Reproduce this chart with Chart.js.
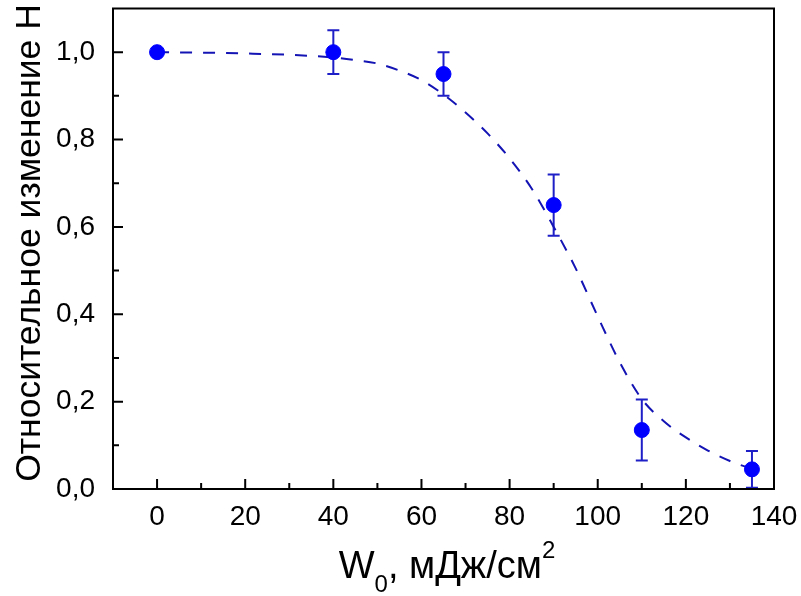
<!DOCTYPE html>
<html>
<head>
<meta charset="utf-8">
<script src="https://cdn.jsdelivr.net/npm/chart.js@4"></script>
<style>
  body { margin: 0; background: #fff; }
</style>
</head>
<body>
<canvas id="chart" width="801" height="596"></canvas>
<script>
// measured points with error bars
const energy = [0, 40, 65, 90, 110, 135];
const relChange = [1.0, 1.0, 0.95, 0.65, 0.135, 0.045];
const relError = [0, 0.05, 0.05, 0.07, 0.07, 0.042];

// dashed fit curve
const fitX = [0, 10, 20, 30, 40, 45, 50, 55, 60, 65, 70, 75, 80, 85, 90, 95, 100, 105, 110, 115, 120, 125, 130, 135];
const fitY = [1.0, 0.999, 0.997, 0.994, 0.988, 0.982, 0.974, 0.958, 0.936, 0.903, 0.862, 0.814, 0.757, 0.688, 0.6, 0.505, 0.395, 0.29, 0.206, 0.155, 0.118, 0.088, 0.064, 0.046];

// axis ticks
const xTicks = [0, 20, 40, 60, 80, 100, 120, 140];
const xMinor = [-10, 10, 30, 50, 70, 90, 110, 130];
const yTicks = [0, 0.2, 0.4, 0.6, 0.8, 1.0];
const yMinor = [0.1, 0.3, 0.5, 0.7, 0.9];

const FONT = 'Liberation Sans, Arial, sans-serif';

// error bars, drawn under the points
const errorBars = {
  id: 'errorBars',
  beforeDatasetsDraw(chart) {
    const c = chart.ctx, xs = chart.scales.x, ys = chart.scales.y;
    c.save();
    c.strokeStyle = '#1f1fc8';
    c.lineWidth = 2;
    energy.forEach(function(x, i) {
      if (!relError[i]) return;
      const px = xs.getPixelForValue(x);
      const top = ys.getPixelForValue(relChange[i] + relError[i]);
      const bot = ys.getPixelForValue(relChange[i] - relError[i]);
      c.beginPath();
      c.moveTo(px, top); c.lineTo(px, bot);
      c.moveTo(px - 6, top); c.lineTo(px + 6, top);
      c.moveTo(px - 6, bot); c.lineTo(px + 6, bot);
      c.stroke();
    });
    c.restore();
  }
};

// box frame, inward ticks and axis titles
const frame = {
  id: 'frame',
  afterDraw(chart) {
    const c = chart.ctx, a = chart.chartArea, xs = chart.scales.x, ys = chart.scales.y;
    c.save();
    c.strokeStyle = '#000';
    c.lineWidth = 2;
    c.strokeRect(a.left, a.top, a.right - a.left, a.bottom - a.top);
    c.beginPath();
    xTicks.forEach(function(v) { const p = xs.getPixelForValue(v); c.moveTo(p, a.bottom); c.lineTo(p, a.bottom - 10); });
    xMinor.forEach(function(v) { const p = xs.getPixelForValue(v); c.moveTo(p, a.bottom); c.lineTo(p, a.bottom - 6); });
    yTicks.forEach(function(v) { const p = ys.getPixelForValue(v); c.moveTo(a.left, p); c.lineTo(a.left + 10, p); });
    yMinor.forEach(function(v) { const p = ys.getPixelForValue(v); c.moveTo(a.left, p); c.lineTo(a.left + 6, p); });
    c.stroke();

    c.fillStyle = '#000';
    // y title
    c.save();
    c.translate(40, 243);
    c.rotate(-Math.PI / 2);
    c.font = '35.5px ' + FONT;
    c.textAlign = 'center';
    c.textBaseline = 'alphabetic';
    c.fillText('Относительное изменение Н', 0, 0);
    c.restore();

    // x title with sub/superscript
    const big = '38px ' + FONT, small = '24px ' + FONT;
    const parts = [['W', big, 0], ['0', small, 14], [', мДж/см', big, 0], ['2', small, -20]];
    let total = 0;
    parts.forEach(function(p) { c.font = p[1]; total += c.measureText(p[0]).width; });
    let x = 447 - total / 2;
    const base = 578;
    c.textAlign = 'left';
    c.textBaseline = 'alphabetic';
    parts.forEach(function(p) {
      c.font = p[1];
      c.fillText(p[0], x, base + p[2]);
      x += c.measureText(p[0]).width;
    });
    c.restore();
  }
};

const ctx = document.getElementById('chart').getContext('2d');
new Chart(ctx, {
  type: 'scatter',
  data: {
    datasets: [{
      label: 'data',
      data: energy.map(function(x, i) { return { x: x, y: relChange[i] }; }),
      backgroundColor: '#0000ff',
      borderColor: '#0000ff',
      pointRadius: 7.5,
      borderWidth: 1,
      order: 0
    }, {
      label: 'fit',
      data: fitX.map(function(x, i) { return { x: x, y: fitY[i] }; }),
      showLine: true,
      borderColor: '#1414b4',
      borderWidth: 2,
      borderDash: [12, 11],
      pointRadius: 0,
      cubicInterpolationMode: 'monotone',
      order: 1
    }]
  },
  options: {
    responsive: false,
    animation: false,
    devicePixelRatio: 1,
    layout: { padding: { top: 5, right: 27, left: 0, bottom: 0 } },
    plugins: { legend: { display: false }, tooltip: { enabled: false } },
    scales: {
      x: {
        type: 'linear',
        min: -10,
        max: 140,
        grid: { display: false },
        border: { display: false },
        ticks: {
          color: '#000',
          font: { family: FONT, size: 28 },
          padding: 3,
          maxRotation: 0,
          autoSkip: false
        },
        afterBuildTicks: function(s) { s.ticks = xTicks.map(function(v) { return { value: v }; }); },
        afterFit: function(s) { s.height = 107; s.paddingLeft = 0; s.paddingRight = 0; }
      },
      y: {
        min: 0,
        max: 1.1,
        grid: { display: false },
        border: { display: false },
        ticks: {
          color: '#000',
          font: { family: FONT, size: 28 },
          padding: 10,
          autoSkip: false,
          callback: function(v) { return v.toFixed(1).replace('.', ','); }
        },
        afterBuildTicks: function(s) { s.ticks = yTicks.map(function(v) { return { value: v }; }); },
        afterFit: function(s) { s.width = 113; s.paddingTop = 0; s.paddingBottom = 0; }
      }
    }
  },
  plugins: [errorBars, frame]
});
</script>
</body>
</html>
